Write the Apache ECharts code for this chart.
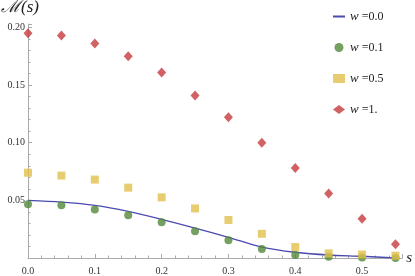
<!DOCTYPE html>
<html>
<head>
<meta charset="utf-8">
<script src="https://cdn.jsdelivr.net/npm/echarts@6/dist/echarts.min.js"></script>
<style>html,body{margin:0;padding:0;background:#fff}#c{width:415px;height:276px}</style>
</head>
<body>
<div id="c"></div>
<script>
var sValues = [0, 0.05, 0.1, 0.15, 0.2, 0.25, 0.3, 0.35, 0.4, 0.45, 0.5, 0.55];
var w00 = [0.050, 0.0485, 0.0457, 0.0405, 0.0336, 0.026, 0.018, 0.0095, 0.005, 0.0026, 0.0015, 0.0];
var w01 = [0.0466, 0.0457, 0.042, 0.037, 0.031, 0.0233, 0.0155, 0.0078, 0.0026, 0.001, 0.0005, 0.0];
var w05 = [0.074, 0.0715, 0.068, 0.061, 0.0526, 0.043, 0.033, 0.021, 0.0095, 0.004, 0.003, 0.002];
var w10 = [0.195, 0.193, 0.186, 0.175, 0.161, 0.141, 0.122, 0.100, 0.078, 0.056, 0.034, 0.012];
var legendNames = ['0.0', '0.1', '0.5', '1.'];

function pairs(ys){ return sValues.map(function(x,i){ return [x, ys[i]]; }); }

var serif = '"Liberation Serif", "DejaVu Serif", serif';
var chart = echarts.init(document.getElementById('c'));
chart.setOption({
  animation: false,
  grid: {left: 28, right: 12, top: 24, bottom: 17, containLabel: false},
  legend: {
    orient: 'vertical', left: 328, top: 5, itemGap: 18, itemWidth: 12, itemHeight: 9,
    formatter: function(n){ return '{i|w} =' + n; },
    textStyle: {fontFamily: serif, fontSize: 12, color: '#222', rich: {i: {fontFamily: serif, fontStyle: 'italic', fontSize: 13, color: '#222'}}},
    data: [
      {name: legendNames[0], icon: 'path://M0,0L24,0L24,4L0,4Z', itemStyle: {color: '#4a4ab0'}},
      {name: legendNames[1], icon: 'circle'},
      {name: legendNames[2], icon: 'rect'},
      {name: legendNames[3], icon: 'diamond'}
    ]
  },
  xAxis: {
    type: 'value', min: 0, max: 0.56, interval: 0.1,
    name: 's', nameLocation: 'end', nameGap: 4,
    nameTextStyle: {fontFamily: serif, fontStyle: 'italic', fontSize: 15, color: '#222', verticalAlign: 'middle'},
    axisLine: {show: true, onZero: false, lineStyle: {color: '#aaa', width: 1}},
    axisTick: {show: true, inside: true, length: 4, lineStyle: {color: '#aaa'}},
    minorTick: {show: true, splitNumber: 5, length: 2.5, lineStyle: {color: '#aaa'}},
    splitLine: {show: false},
    axisLabel: {fontFamily: serif, fontSize: 10, color: '#333', margin: 8, showMaxLabel: false,
      formatter: function(v){ return v > 0.55 ? '' : v.toFixed(1); }}
  },
  yAxis: {
    type: 'value', min: 0, max: 0.203, interval: 0.05,
    axisLine: {show: true, onZero: false, lineStyle: {color: '#aaa', width: 1}},
    axisTick: {show: true, inside: true, length: 4, lineStyle: {color: '#aaa'}},
    minorTick: {show: true, splitNumber: 5, length: 2.5, lineStyle: {color: '#aaa'}},
    splitLine: {show: false},
    axisLabel: {fontFamily: serif, fontSize: 10, color: '#333', margin: 3, showMinLabel: false, showMaxLabel: false,
      formatter: function(v){ return (v === 0 || v > 0.2001) ? '' : v.toFixed(2); }}
  },
  graphic: [{type: 'text', left: 1, top: -1, style: {text: 'ℳ(s)', font: 'italic 17px ' + serif, fill: '#222'}}],
  series: [
    {name: legendNames[0], type: 'line', data: pairs(w00), smooth: 0.3, symbol: 'none', lineStyle: {color: '#4a4ab0', width: 1.3}, itemStyle: {color: '#4a4ab0'}, z: 2},
    {name: legendNames[1], type: 'scatter', data: pairs(w01), symbol: 'circle', symbolSize: 8, itemStyle: {color: '#53883a'}, z: 3},
    {name: legendNames[2], type: 'scatter', data: pairs(w05), symbol: 'rect', symbolSize: 8, itemStyle: {color: '#e2c04c'}, z: 3},
    {name: legendNames[3], type: 'scatter', data: pairs(w10), symbol: 'diamond', symbolSize: [9, 10], itemStyle: {color: '#c63a3c'}, z: 3}
  ]
});
</script>
</body>
</html>
